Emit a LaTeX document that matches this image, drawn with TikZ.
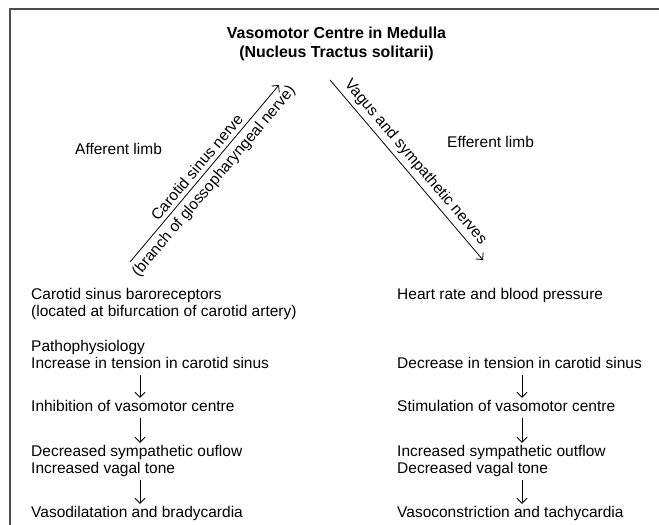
\documentclass[tikz,border=0pt]{standalone}
\usepackage{fontspec}
\setmainfont{Liberation Sans}
\usepackage{tikz}
\usetikzlibrary{arrows.meta}
\tikzset{
  txt/.style={anchor=west, inner sep=0pt, text height=11pt, text depth=3pt},
  flow/.style={-{Straight Barb[length=5pt,width=10pt]}, line width=0.8pt, shorten <=4pt, shorten >=2pt},
  nerve/.style={-{Straight Barb[length=5pt,width=10pt]}, line width=0.8pt}
}

\begin{document}
\begin{tikzpicture}[x=1pt, y=-1pt, every node/.style={font=\fontsize{15.5}{18}\selectfont}]
        \useasboundingbox (0,0) rectangle (659,525);
        \clip (0,0) rectangle (659,525);
        \draw[line width=1.3pt, black!70] (10,9) rectangle (700,600);
        % title
        \node[font=\bfseries\fontsize{15.9}{19}\selectfont, align=center] (vmc) at (336.5,44) {Vasomotor Centre in Medulla\\(Nucleus Tractus solitarii)};
        \node[txt] (aff) at (75,150) {Afferent limb};
        \node[txt] (eff) at (447,143) {Efferent limb};
        % nerves
        \coordinate (affS) at (130,262);
        \coordinate (affE) at (279,85);
        \coordinate (effS) at (330,80);
        \coordinate (effE) at (483,260);
        \draw[nerve] (affS) -- node[sloped, above=4pt, inner sep=0pt] (csn) {Carotid sinus nerve}
                node[sloped, below=5pt, inner sep=0pt] (gpn) {(branch of glossopharyngeal nerve)} (affE);
        \draw[nerve] (effS) -- node[sloped, above=4pt, inner sep=0pt] (vsn) {Vagus and sympathetic nerves} (effE);
        % left column
        \node[txt] (bar) at (31,295) {Carotid sinus baroreceptors};
        \node[txt] (loc) at (31,312) {(located at bifurcation of carotid artery)};
        \node[txt] (patho) at (31,347) {Pathophysiology};
        \node[txt] (incT) at (31,364) {Increase in tension in carotid sinus};
        \node[txt] (inhV) at (31,407) {Inhibition of vasomotor centre};
        \node[txt] (decS) at (31,452) {Decreased sympathetic ouflow};
        \node[txt] (incV) at (31,469) {Increased vagal tone};
        \node[txt] (vdil) at (31,513) {Vasodilatation and bradycardia};
        % right column
        \node[txt] (hrbp) at (397,295) {Heart rate and blood pressure};
        \node[txt] (decT) at (397,364) {Decrease in tension in carotid sinus};
        \node[txt] (stmV) at (397,407) {Stimulation of vasomotor centre};
        \node[txt] (incS) at (397,452) {Increased sympathetic outflow};
        \node[txt] (decV) at (397,469) {Decreased vagal tone};
        \node[txt] (vcon) at (397,513) {Vasoconstriction and tachycardia};
        % arrows
        \coordinate (colL) at (140,0);
        \coordinate (colR) at (522,0);
        \draw[flow] (incT.south -| colL) -- (inhV.north -| colL);
        \draw[flow] (inhV.south -| colL) -- (decS.north -| colL);
        \draw[flow] (incV.south -| colL) -- (vdil.north -| colL);
        \draw[flow] (decT.south -| colR) -- (stmV.north -| colR);
        \draw[flow] (stmV.south -| colR) -- (incS.north -| colR);
        \draw[flow] (decV.south -| colR) -- (vcon.north -| colR);
    \end{tikzpicture}
\end{document}
